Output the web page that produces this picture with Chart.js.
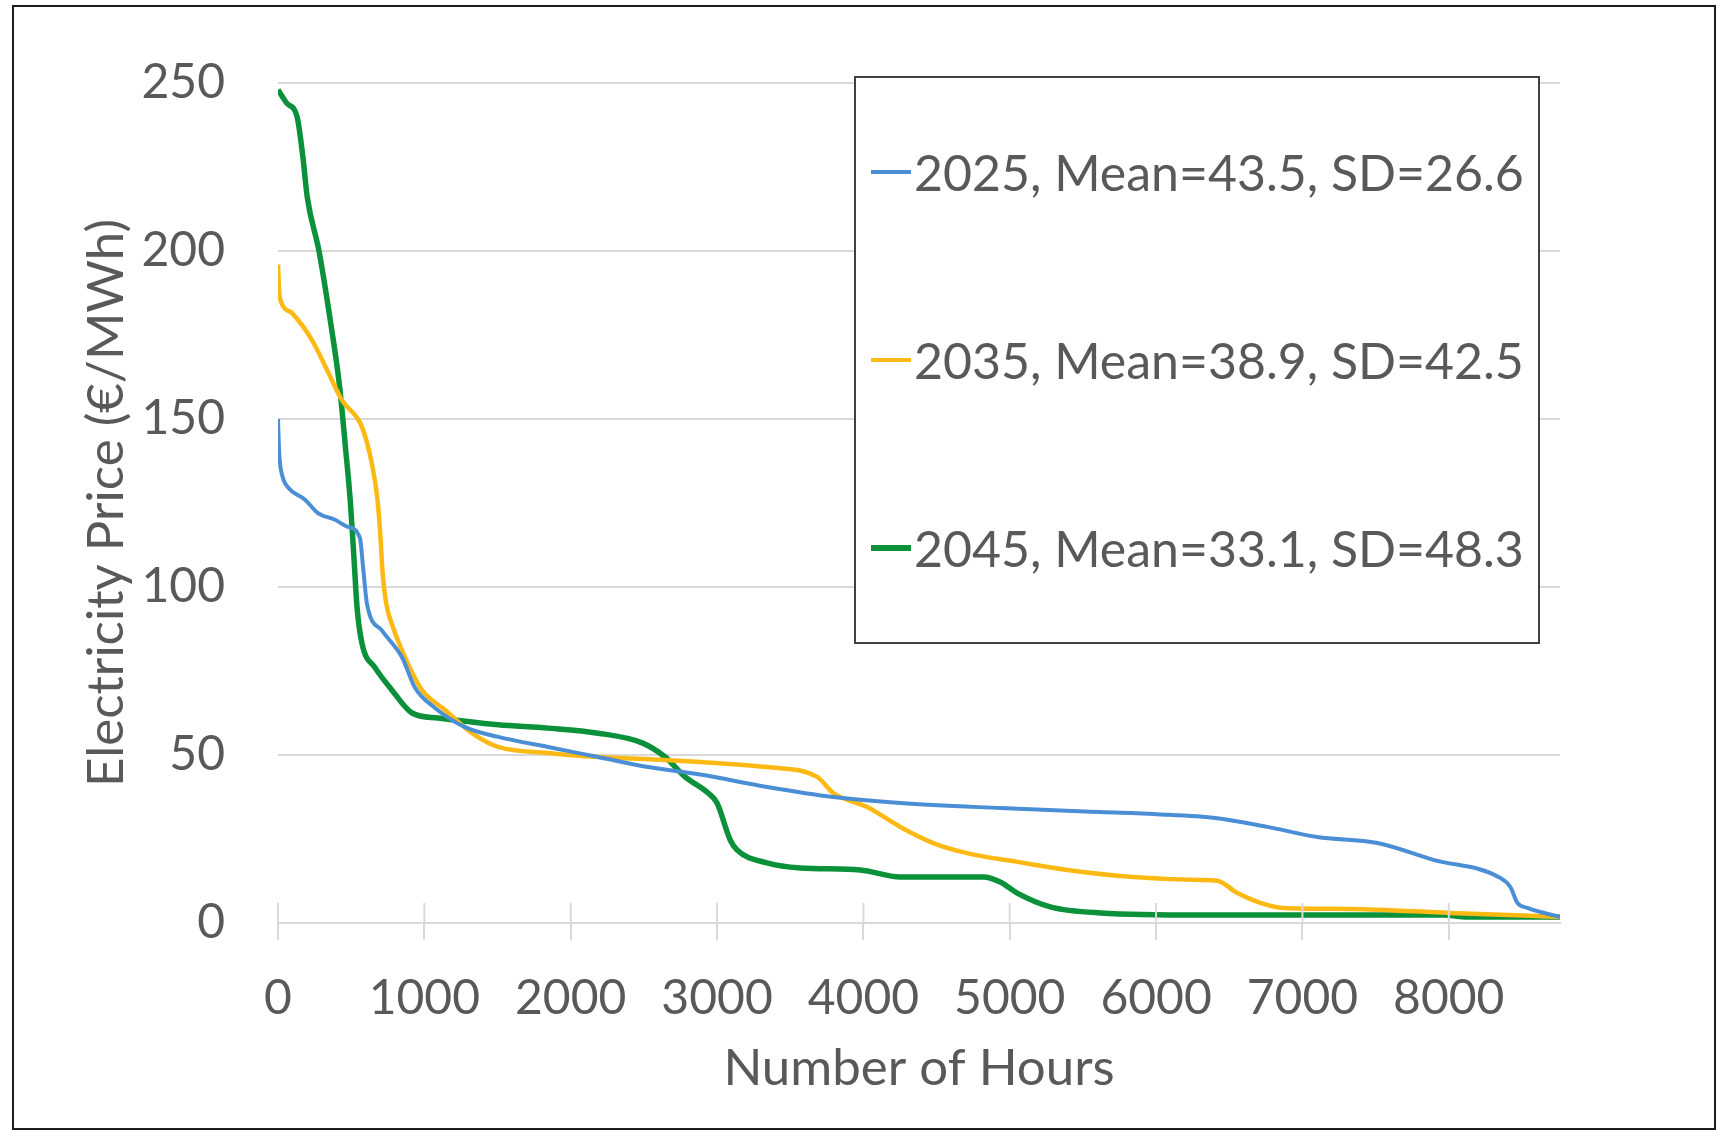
<!DOCTYPE html>
<html>
<head>
<meta charset="utf-8">
<script src="https://cdn.jsdelivr.net/npm/chart.js@4/dist/chart.umd.min.js"></script>
<style>
  html, body { margin: 0; padding: 0; background: #ffffff; }
  #wrap { position: relative; width: 1725px; height: 1131px; overflow: hidden; }
  #frame { position: absolute; left: 12px; top: 5px; width: 1700px; height: 1121px; border: 2px solid #1e1e1e; pointer-events: none; }
  canvas { position: absolute; left: 0; top: 0; }
  #legend { position: absolute; left: 854px; top: 76px; width: 682px; height: 564px; border: 2px solid #404040; background: #fff;
            display: flex; flex-direction: column; justify-content: space-around; }
  .item { display: flex; align-items: center; padding-left: 15px; font-family: Lato, "Open Sans", sans-serif; font-size: 50px; color: #595959; line-height: 58px; white-space: nowrap; }
  .sw { width: 40px; margin-right: 3px; }
</style>
</head>
<body>
<div id="wrap">
  <canvas id="c" width="1725" height="1131"></canvas>
  <div id="legend"></div>
  <div id="frame"></div>
</div>
<script>
// ---- Data ----
const seriesLabels = ["2025, Mean=43.5, SD=26.6", "2035, Mean=38.9, SD=42.5", "2045, Mean=33.1, SD=48.3"];
const seriesColors = ["#4A8ED5", "#FDB913", "#0B9139"];

const hours2025 = [0, 8, 30, 62, 185, 273, 390, 472, 560, 581, 608, 711, 848, 936, 1073, 1278, 1504, 1845, 2187, 2529, 2884, 3342, 3794, 4252, 4935, 5619, 6000, 6418, 6760, 7102, 7512, 7895, 8353, 8421, 8469, 8537, 8760];
const price2025 = [150, 140, 133, 130, 126, 122, 120, 118, 114.6, 106, 95, 87, 79, 70, 64, 58.3, 55.4, 52.4, 49.4, 46.4, 44.2, 40.5, 37.5, 35.7, 34.2, 33, 32.4, 31.2, 28.6, 25.6, 23.8, 18.8, 13.4, 10.7, 6, 4.5, 1.8];

const hours2035 = [0, 8, 20, 96, 232, 335, 437, 574, 640, 680, 700, 715, 740, 786, 889, 984, 1141, 1326, 1504, 1845, 2187, 2645, 2884, 3342, 3684, 3794, 4026, 4252, 4477, 4709, 5051, 5393, 5844, 6302, 6418, 6555, 6712, 6869, 7327, 8011, 8760];
const price2035 = [196, 188, 185, 181.5, 173.5, 164.6, 155.6, 147.6, 137, 126, 115, 104, 95, 88, 77, 69.3, 63.4, 56.5, 52.4, 50.6, 49.4, 48.5, 47.9, 46.4, 43.5, 38.7, 34.5, 28.6, 23.8, 20.8, 18.2, 15.8, 13.7, 12.8, 12.6, 8.9, 6, 4.5, 4.2, 3, 1.8];

const hours2045 = [0, 60, 130, 170, 200, 280, 355, 420, 460, 495, 520, 540, 575, 663, 779, 916, 1094, 1504, 1845, 2187, 2488, 2645, 2782, 2941, 3000, 3090, 3137, 3342, 3568, 3978, 4252, 4819, 4935, 5051, 5277, 5619, 6302, 7963, 8127, 8760];
const price2045 = [248, 244, 240, 228, 216, 200, 180, 160, 142, 125, 108, 94, 83, 76, 69.3, 62.5, 61, 59, 58, 56.5, 53.6, 49.4, 43.5, 38.6, 35.7, 24.7, 21.7, 17.9, 16.4, 15.8, 13.7, 13.7, 12.2, 8.9, 4.8, 3.0, 2.4, 2.4, 1.8, 1.8];

const xTickValues = [0, 1000, 2000, 3000, 4000, 5000, 6000, 7000, 8000];
const xTitle = "Number of Hours";
const yTitle = "Electricity Price (€/MWh)";
const xMax = 8760;
const yMax = 250, yStep = 50;

function toPoints(xs, ys) { return xs.map((x, i) => ({ x: x, y: ys[i] })); }

const FONT = 'Lato, "Open Sans", sans-serif';
const TXT = '#595959';
const GRID = '#D9D9D9';

const crossTicks = {
  id: 'crossTicks',
  afterDatasetsDraw(chart) {
    const sx = chart.scales.x, ctx = chart.ctx, b = chart.chartArea.bottom;
    ctx.save();
    ctx.strokeStyle = GRID; ctx.lineWidth = 2;
    sx.ticks.forEach(t => {
      const px = sx.getPixelForValue(t.value);
      ctx.beginPath(); ctx.moveTo(px, b - 20); ctx.lineTo(px, b); ctx.stroke();
    });
    ctx.restore();
  }
};

const widths = [4, 4.5, 5.5];
const datasets = [
  toPoints(hours2025, price2025),
  toPoints(hours2035, price2035),
  toPoints(hours2045, price2045)
].map((pts, i) => ({
  label: seriesLabels[i],
  data: pts,
  borderColor: seriesColors[i],
  backgroundColor: seriesColors[i],
  borderWidth: widths[i],
  pointRadius: 0,
  cubicInterpolationMode: 'monotone',
  fill: false
}));

const chart = new Chart(document.getElementById('c'), {
  type: 'line',
  data: { datasets: datasets },
  plugins: [crossTicks],
  options: {
    responsive: false,
    animation: false,
    devicePixelRatio: 1,
    layout: { padding: { left: 0, top: 83, right: 165, bottom: 0 } },
    plugins: { legend: { display: false }, tooltip: { enabled: false } },
    scales: {
      x: {
        type: 'linear', min: 0, max: xMax,
        afterBuildTicks: s => { s.ticks = xTickValues.map(v => ({ value: v })); },
        afterFit: s => { s.height = 208; },
        ticks: { autoSkip: false, color: TXT, padding: 30, maxRotation: 0, minRotation: 0,
                 font: { family: FONT, size: 48 }, callback: v => String(v) },
        grid: { drawOnChartArea: false, drawTicks: true, tickLength: 17, color: GRID, lineWidth: 2 },
        border: { display: true, color: GRID, width: 2 },
        title: { display: true, text: xTitle, color: TXT, font: { family: FONT, size: 51 }, padding: { top: 0, bottom: 32 } }
      },
      y: {
        min: 0, max: yMax,
        afterFit: s => { s.width = 278; },
        ticks: { stepSize: yStep, color: TXT, padding: 53, font: { family: FONT, size: 48 } },
        grid: { drawTicks: false, color: GRID, lineWidth: 2 },
        border: { display: false },
        title: { display: true, text: yTitle, color: TXT, font: { family: FONT, size: 51 }, padding: { top: 76, bottom: 0 } }
      }
    }
  }
});

// HTML legend built from the chart's datasets
const lg = document.getElementById('legend');
chart.data.datasets.forEach(ds => {
  const it = document.createElement('div'); it.className = 'item';
  const sw = document.createElement('div'); sw.className = 'sw';
  sw.style.height = Math.max(3, ds.borderWidth) + 'px'; sw.style.background = ds.borderColor;
  const tx = document.createElement('span'); tx.textContent = ds.label;
  it.appendChild(sw); it.appendChild(tx); lg.appendChild(it);
});
</script>
</body>
</html>
